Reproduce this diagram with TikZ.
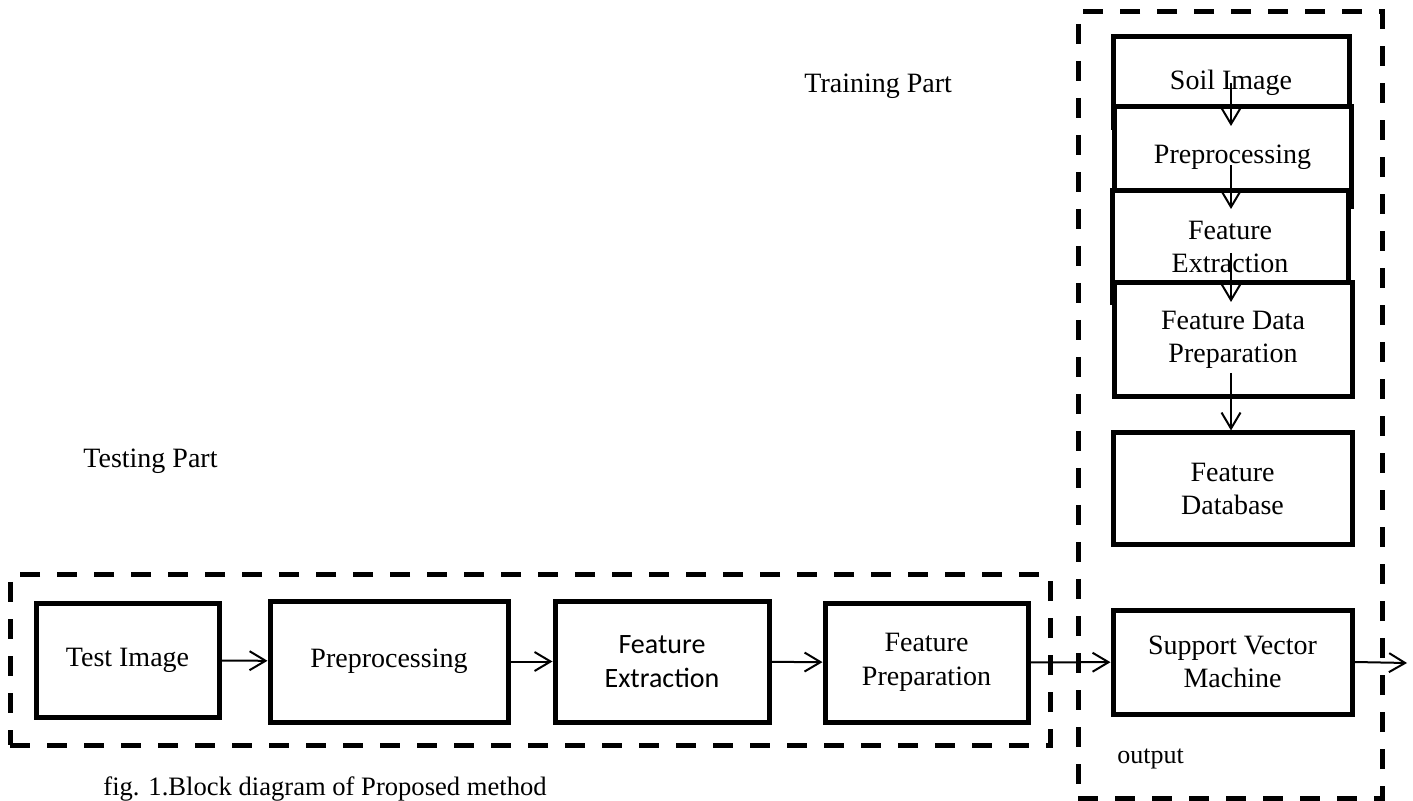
\documentclass[tikz,border=0pt]{standalone}
\usepackage{fontspec}
\setmainfont{Liberation Serif}
\newfontfamily\carl{Carlito}
\usetikzlibrary{arrows.meta}
\begin{document}
\begin{tikzpicture}[x=0.5pt,y=-0.5pt,
  box/.style={draw,line width=2.5pt,fill=white,inner sep=0pt,align=center,font=\fontsize{14}{16.75}\selectfont},
  frame/.style={draw,line width=2.5pt,dash pattern=on 10pt off 8.5pt,inner sep=0pt},
  arr/.style={-{Straight Barb[length=8pt,width=9.5pt]},line width=1pt},
  lbl/.style={anchor=base west,inner sep=0pt,font=\fontsize{14}{16.75}\selectfont}]
\useasboundingbox[fill=white] (0,0) rectangle (1413,801);

% dashed frames
\node[frame,minimum width=520pt,minimum height=85pt] (testframe) at (530,660) {};
\node[frame,minimum width=152pt,minimum height=393pt] (trainframe) at (1230,405) {};

% labels
\node[lbl] (trainlbl) at (804,93) {Training Part};
\node[lbl] (testlbl) at (83,468) {Testing Part};
\node[lbl,font=\fontsize{13.3}{16}\selectfont] (caption) at (103,795) {fig. 1.Block diagram of Proposed method};
\node[lbl,font=\fontsize{13}{16}\selectfont] (outlbl) at (1117,763) {output};

% testing row
\node[box,minimum width=91.5pt,minimum height=57pt] (test) at (127.5,660) {Test Image};
\node[box,minimum width=119pt,minimum height=60.5pt] (prep) at (389,661.5) {Preprocessing};
\node[box,minimum width=107pt,minimum height=60.5pt,font=\carl\fontsize{14}{17}\selectfont] (fe) at (662,661.5) {Feature\\Extraction};
\node[box,minimum width=101.5pt,minimum height=59.5pt] (fp) at (926.5,662.5) {Feature\\Preparation};
\node[box,minimum width=119.5pt,minimum height=52pt] (svm) at (1232.5,662) {Support Vector\\Machine};

% training column
\node[box,minimum width=118pt,minimum height=45.5pt] (soil) at (1231,82.5) {Soil Image};
\node[box,minimum width=118.5pt,minimum height=50pt] (rprep) at (1232.5,157) {Preprocessing};
\node[box,minimum width=118pt,minimum height=56pt] (rfe) at (1230,247) {Feature\\Extraction};
\node[box,minimum width=119pt,minimum height=57pt] (fdp) at (1233,340) {Feature Data\\Preparation};
\node[box,minimum width=119.5pt,minimum height=56pt] (fdb) at (1232.5,489) {Feature\\Database};

% arrow end points
\coordinate (s1) at (1231,83);  \coordinate (e1) at (1231,126);
\coordinate (s2) at (1231,165); \coordinate (e2) at (1231,209);
\coordinate (s3) at (1231,253); \coordinate (e3) at (1231,302);
\coordinate (s4) at (1231,373);
\coordinate (out) at (1407,663);

% connectors
\draw[arr] (test) -- (prep);
\draw[arr] (prep) -- (fe);
\draw[arr] (fe) -- (fp);
\draw[arr] (fp) -- (svm);
\draw[arr] (svm.east) -- (out);
\draw[arr] (s1) -- (e1);
\draw[arr] (s2) -- (e2);
\draw[arr] (s3) -- (e3);
\draw[arr] (s4) -- (s4 |- fdb.north);
\end{tikzpicture}
\end{document}
